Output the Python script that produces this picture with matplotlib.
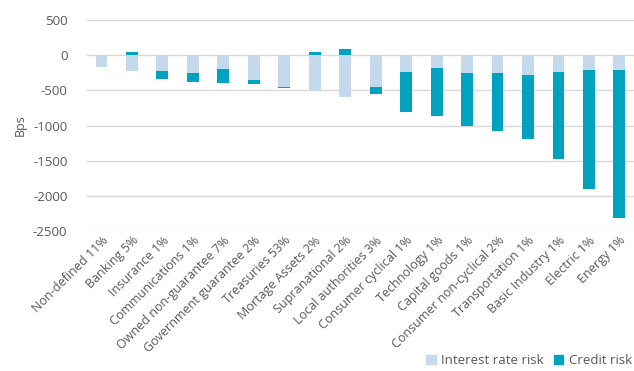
import matplotlib
matplotlib.use("Agg")
import matplotlib.pyplot as plt
import numpy as np
from matplotlib.patches import Patch

categories = ["Non-defined 11%", "Banking 5%", "Insurance 1%", "Communications 1%",
              "Owned non-guarantee 7%", "Government guarantee 2%", "Treasuries 53%",
              "Mortage Assets 2%", "Supranational 2%", "Local authorities 3%",
              "Consumer cyclical 1%", "Technology 1%", "Capital goods 1%",
              "Consumer non-cyclical 2%", "Transportation 1%", "Basic Industry 1%",
              "Electric 1%", "Energy 1%"]
interest_rate = [-165, -225, -225, -254, -202, -357, -451, -507, -592, -451,
                 -240, -178, -254, -254, -282, -240, -216, -216]
credit = [0, 45, -110, -122, -197, -56, -12, 45, 94, -103,
          -563, -691, -755, -816, -906, -1240, -1690, -2100]
yticks = [500, 0, -500, -1000, -1500, -2000, -2500]

LIGHT = "#c5d9ec"
TEAL = "#00a3bf"
TXT = "#595959"

plt.rcParams['font.family'] = ['Open Sans', 'DejaVu Sans']

fig = plt.figure(figsize=(6.34, 3.71), dpi=100)
ax = fig.add_axes([0.137, 0.377, 0.863, 0.569])

x = np.arange(len(categories))
ir = np.array(interest_rate)
cr = np.array(credit)
bottom_cr = np.where(cr < 0, ir, 0)
w = 0.39
ax.bar(x, ir, width=w, color=LIGHT, zorder=2)
ax.bar(x, cr, width=w, bottom=bottom_cr, color=TEAL, zorder=3)

ax.set_ylim(-2500, 500)
ax.set_xlim(-0.48, 17.48)
ax.set_yticks(yticks)
ax.set_yticklabels([str(v) for v in yticks], fontsize=9.5, color=TXT)
ax.yaxis.grid(True, color="#d9d9d9", linewidth=1, zorder=0)
ax.set_axisbelow(True)
ax.tick_params(axis='y', length=0, pad=14)
ax.tick_params(axis='x', length=0, pad=2)
ax.set_xticks(x)
ax.set_xticklabels(categories, rotation=45, ha='right', rotation_mode='anchor',
                   fontsize=9, color=TXT)
for s in ax.spines.values():
    s.set_visible(False)
ax.set_ylabel("Bps", fontsize=9, color=TXT)
ax.yaxis.set_label_coords(-0.11, 0.5)

handles = [Patch(color=LIGHT, label="Interest rate risk"),
           Patch(color=TEAL, label="Credit risk")]
fig.legend(handles=handles, loc='lower right', bbox_to_anchor=(1.015, -0.022), ncol=2,
           frameon=False, fontsize=9.5, handlelength=0.7, handleheight=0.7,
           handletextpad=0.4, columnspacing=0.8, labelcolor=TXT)

fig.savefig("out.png", dpi=100)
